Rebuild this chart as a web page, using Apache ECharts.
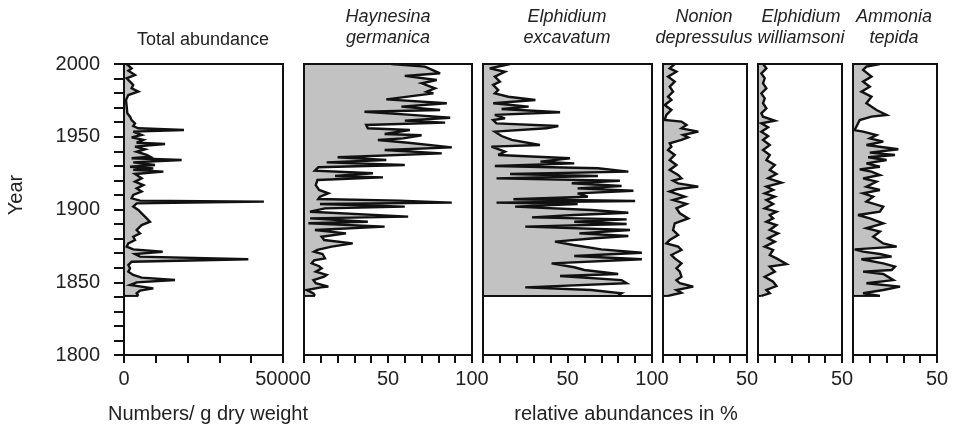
<!DOCTYPE html>
<html><head><meta charset="utf-8">
<script src="https://cdn.jsdelivr.net/npm/echarts@6/dist/echarts.min.js"></script>
<style>html,body{margin:0;padding:0;background:#fff}#c{width:956px;height:430px}</style>
</head><body><div id="c"></div>
<script>
// ---------- data ----------
const panelTitles = ['Total abundance', 'Haynesina\ngermanica', 'Elphidium\nexcavatum', 'Nonion\ndepressulus', 'Elphidium\nwilliamsoni', 'Ammonia\ntepida'];
const yLabelYears = [1800, 1850, 1900, 1950, 2000];

const totalYears = [2000,1997.0,1995.4,1992.4,1990.2,1987.9,1985.6,1983.3,1981.0,1978.7,1975.3,1970.7,1966.1,1963.8,1961.5,1959.2,1957.4,1955.8,1954.6,1953.5,1951.2,1949.6,1947.8,1945.9,1945.0,1943.2,1941.4,1939.7,1937.5,1936.3,1935.2,1934.0,1932.4,1930.6,1929.4,1928.3,1927.2,1926.0,1924.4,1921.4,1919.1,1916.8,1914.5,1912.3,1910.0,1907.7,1906.1,1905.4,1904.2,1902.0,1899.7,1897.4,1895.1,1891.6,1889.3,1885.9,1883.6,1881.3,1879.0,1876.7,1874.5,1872.6,1871.0,1869.4,1867.6,1865.8,1864.1,1861.8,1859.6,1857.3,1855.0,1853.2,1851.5,1849.9,1848.1,1845.8,1844.2,1842.4,1840.6];
const totalValues = [840,2400,1360,3460,840,1900,2900,2400,4500,1360,630,840,1050,1900,2400,3460,2900,4500,18860,2900,5550,2400,6080,3980,12900,3460,6600,3980,7130,8170,2400,18130,2900,9750,1900,9220,2900,12370,3460,5550,3460,6080,3980,5550,2900,2400,5030,44000,3980,2900,4500,5550,6600,8170,5550,3980,5030,2900,3460,1360,840,2900,12160,3460,5030,39100,2400,1360,1900,1360,2900,5550,16030,3980,1900,9220,5030,3980,4500];

const hayYears = [2000,1998.2,1993.6,1991.8,1989.0,1986.7,1985.6,1983.3,1981.0,1979.8,1975.7,1973.0,1970.7,1968.4,1967.2,1965.0,1963.1,1961.1,1959.7,1958.1,1955.8,1954.6,1951.9,1951.0,1948.9,1947.8,1945.9,1942.7,1940.9,1938.6,1935.9,1934.0,1932.4,1930.6,1929.0,1926.7,1924.9,1923.0,1922.1,1920.3,1916.8,1913.4,1911.1,1908.8,1907.2,1906.1,1904.7,1903.8,1902.0,1900.8,1898.5,1895.1,1893.9,1891.6,1890.5,1888.2,1885.9,1883.6,1881.3,1879.0,1876.7,1874.5,1872.2,1871.0,1869.4,1868.7,1866.4,1865.0,1863.0,1861.0,1859.6,1857.3,1855.0,1853.8,1851.5,1849.3,1847.0,1846.5,1844.7,1842.4,1840.6];
const hayValues = [52,72,81,60,79,70,69,78,73,77,49,85,58,81,36,64,87,60,84,37,38,63,48,70,59,44,62,88,48,82,20,49,13.5,60,8.5,6.5,41,18.5,47,8,7,9,14.5,9.5,8.5,57,88,9.5,60,12.5,3.6,62,3.6,38,2.6,48,6.5,25,10.5,12,29,16.5,8,6,11,10,12.5,6,4.6,9,10.5,7,13.5,12,5.6,7,14.5,10,1.6,5.6,6.5];

const excYears = [2000,1997.0,1994.7,1991.3,1987.9,1985.6,1982.1,1979.8,1977.5,1975.3,1973.0,1970.7,1969.1,1966.8,1965.0,1962.7,1961.5,1959.2,1957.4,1955.8,1953.5,1950.5,1947.8,1944.3,1943.2,1939.7,1937.5,1935.2,1932.9,1931.7,1929.9,1928.3,1926.0,1924.4,1923.0,1921.4,1919.8,1918.0,1916.2,1914.5,1912.9,1911.1,1908.8,1907.0,1905.8,1904.7,1903.8,1902.0,1899.7,1897.8,1896.2,1894.6,1893.2,1891.6,1890.0,1888.2,1885.9,1883.6,1881.8,1880.2,1877.9,1875.6,1872.6,1870.3,1868.0,1865.8,1863.0,1860.3,1858.4,1855.7,1854.3,1851.5,1849.3,1846.5,1844.7,1842.4,1841.0,1840.6];
const excValues = [16,4,13,7,10,6,9,7,15,31,6,27,11,45.6,7,13,6,8,44.6,37.7,7,11,17,33.7,5,13,9,51.5,34,54,7,68,86,16,68,8,81,52.5,82,56,89,56,62,18,90,8,56,19,64,86,54,29,85,54,85,25,87,57,86,66,42.6,53.5,70,94,54,94,40.6,54,60,80,45.6,82,85,25,64,82,80,80];

const nonYears = [2000,1997.0,1994.7,1991.3,1987.9,1984.4,1981.0,1977.5,1975.3,1971.8,1968.4,1965.0,1961.5,1960.4,1958.1,1955.8,1953.5,1951.2,1949.6,1947.8,1945.5,1943.2,1940.9,1937.5,1934.0,1930.6,1927.2,1923.7,1921.4,1919.8,1918.0,1915.7,1913.9,1912.3,1908.8,1906.5,1903.8,1900.8,1897.4,1893.9,1890.5,1885.9,1882.5,1879.0,1876.7,1874.5,1872.2,1868.7,1866.4,1863.0,1859.6,1857.3,1853.8,1851.5,1849.3,1847.0,1844.7,1842.8,1840.6];
const nonValues = [7,4,8,3,7,4,6,3,5,1,5,2,1,11,14,11,21,12,15,11,4,5,3,7,4,8,4,9,11,6,9,21,8,4,13,6,14,8,10,15,7,6,9,4,2,9,11,5,7,11,8,10,11,8,10,18,8,11,3];

const wilYears = [2000,1997.0,1993.6,1990.2,1986.7,1983.3,1979.8,1976.4,1973.0,1969.5,1966.1,1963.8,1961.1,1959.2,1956.5,1953.5,1950.5,1947.8,1944.3,1940.9,1937.5,1934.0,1930.6,1927.2,1924.4,1921.4,1918.4,1915.7,1913.4,1911.1,1908.8,1906.5,1903.8,1900.8,1898.5,1896.2,1893.9,1891.6,1889.3,1885.9,1883.6,1880.2,1877.9,1874.5,1872.2,1868.7,1866.4,1862.5,1860.7,1857.3,1853.8,1850.4,1847.4,1844.7,1842.4,1840.6];
const wilValues = [3,5,2,4,3,5,2,4,3,5,2,3,10,2,6,2,6,3,7,3,7,5,10,7,11,6,14,5,9,4,10,5,9,4,11,7,9,5,11,7,12,6,10,4,9,7,11,17,7,10,4,9,11,5,7,2];

const ammYears = [2000,1998.2,1995.9,1991.3,1987.9,1984.4,1981.0,1977.5,1973.0,1968.4,1965.0,1963.8,1961.5,1954.6,1953.5,1951.2,1948.9,1946.6,1944.3,1941.4,1939.1,1937.5,1935.9,1934.0,1931.7,1929.4,1927.6,1926.0,1923.7,1921.4,1919.1,1915.7,1913.4,1911.1,1908.8,1905.4,1902.0,1898.5,1896.2,1893.9,1890.5,1887.1,1884.8,1881.3,1876.7,1874.5,1872.6,1871.0,1869.4,1867.6,1865.8,1863.0,1860.7,1858.4,1857.3,1855.7,1851.5,1849.3,1847.0,1844.7,1842.4,1840.6];
const ammValues = [16,8,6,11,6,10,5,11,8,14,20,11,4,1,6,14,10,18,8,27,10,25,9,20,8,16,4,11,16,6,14,8,16,6,12,8,18,16,3,10,18,8,16,12,18,26,1,6,16,23,5,18,25,23,6,18,24,8,28,18,6,16];

const axisMax = [50000, 100, 100, 50, 50, 50];
const axisStep = [10000, 10, 10, 10, 10, 10];
const shownTickLabels = [[0, 50000], [50, 100], [50, 100], [50], [50], [50]];
// ------------------------------------------------------------

const series = [[totalYears, totalValues], [hayYears, hayValues], [excYears, excValues], [nonYears, nonValues], [wilYears, wilValues], [ammYears, ammValues]];
const layout = [[124, 159], [304, 168], [483, 169], [663, 84], [758, 84], [853, 84]];
const titleX = [203, 388, 567, 704, 801, 894];
const FONT = '"Liberation Sans", Arial, sans-serif';
const INK = '#111';
const TXT = '#222';
const FILL = '#c2c2c2';

const grids = [], xAxes = [], yAxes = [], ser = [], graphics = [];
series.forEach(([yrs, vals], i) => {
  const data = yrs.map((y, k) => [vals[k], y]);
  grids.push({left: layout[i][0], width: layout[i][1], top: 64, height: 291, show: true, borderColor: INK, borderWidth: 2, backgroundColor: 'transparent'});
  xAxes.push({
    gridIndex: i, type: 'value', min: 0, max: axisMax[i], interval: axisStep[i],
    axisLine: {show: true, lineStyle: {color: INK, width: 2}},
    axisTick: {show: true, inside: false, length: 8, lineStyle: {color: INK, width: 2}},
    splitLine: {show: false},
    axisLabel: {showMinLabel: true, showMaxLabel: true, margin: 14, fontSize: 20, fontFamily: FONT, color: TXT,
      formatter: v => shownTickLabels[i].indexOf(v) >= 0 ? String(v) : ''}
  });
  yAxes.push({
    gridIndex: i, type: 'value', min: 1800, max: 2000, interval: 10, show: i === 0,
    axisLine: {show: true, lineStyle: {color: INK, width: 2}},
    axisTick: {show: true, inside: false, length: 10, lineStyle: {color: INK, width: 2}},
    splitLine: {show: false},
    axisLabel: {margin: 24, fontSize: 20, fontFamily: FONT, color: TXT,
      formatter: v => yLabelYears.indexOf(v) >= 0 ? String(v) : ''}
  });
  ser.push({
    type: 'custom', xAxisIndex: i, yAxisIndex: i, z: -1, silent: true, data: data,
    renderItem: (params, api) => {
      if (params.dataIndex !== 0) return null;
      const pts = [api.coord([0, yrs[0]])];
      for (let k = 0; k < yrs.length; k++) pts.push(api.coord([vals[k], yrs[k]]));
      const last = yrs.length - 1;
      pts.push(api.coord([0, yrs[last]]));
      const a = api.coord([0, yrs[last]]), b = api.coord([vals[last], yrs[last]]);
      return {type: 'group', children: [
        {type: 'polygon', shape: {points: pts}, style: {fill: FILL, stroke: null}},
        {type: 'line', shape: {x1: a[0], y1: a[1], x2: b[0], y2: b[1]}, style: {stroke: INK, lineWidth: 2}}
      ]};
    }
  });
  const ls = {
    type: 'line', xAxisIndex: i, yAxisIndex: i, data: data, showSymbol: false, symbol: 'none',
    lineStyle: {color: INK, width: 2.4, join: 'miter', miterLimit: 4}, z: 3, silent: true
  };
  if (i === 2) {
    ls.markLine = {symbol: 'none', silent: true, label: {show: false},
      lineStyle: {color: INK, width: 2, type: 'solid'}, data: [{yAxis: yrs[yrs.length - 1]}]};
  }
  ser.push(ls);
  const italic = i > 0;
  graphics.push({type: 'text', x: titleX[i], y: italic ? 27 : 40, style: {
    text: panelTitles[i], font: (italic ? 'italic ' : '') + '18px ' + FONT, fill: TXT,
    align: 'center', verticalAlign: 'middle', textAlign: 'center', textVerticalAlign: 'middle', lineHeight: 21}});
});
graphics.push({type: 'text', x: 16, y: 195, rotation: Math.PI / 2, style: {text: 'Year', font: '20px ' + FONT, fill: TXT,
  align: 'center', verticalAlign: 'middle', textAlign: 'center', textVerticalAlign: 'middle'}});
graphics.push({type: 'text', x: 208, y: 414, style: {text: 'Numbers/ g dry weight', font: '20px ' + FONT, fill: TXT,
  align: 'center', verticalAlign: 'middle', textAlign: 'center', textVerticalAlign: 'middle'}});
graphics.push({type: 'text', x: 626, y: 414, style: {text: 'relative abundances in %', font: '20px ' + FONT, fill: TXT,
  align: 'center', verticalAlign: 'middle', textAlign: 'center', textVerticalAlign: 'middle'}});

const chart = echarts.init(document.getElementById('c'), null, {renderer: 'canvas'});
chart.setOption({
  animation: false, backgroundColor: '#fff',
  grid: grids, xAxis: xAxes, yAxis: yAxes, series: ser, graphic: graphics
});
</script></body></html>
